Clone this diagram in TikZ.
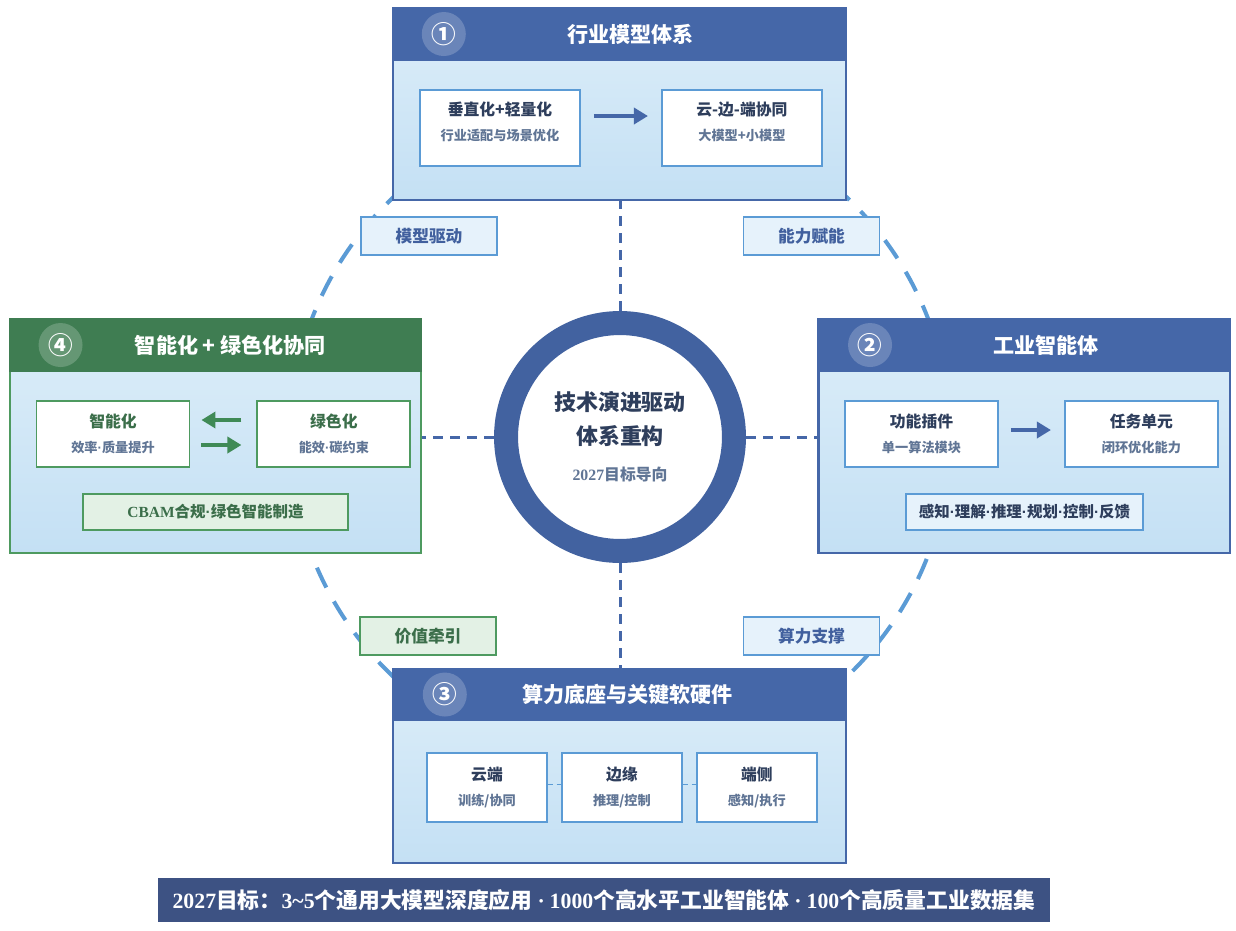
\documentclass[tikz,border=0pt]{standalone}
\usepackage{fontspec}
\setmainfont{Noto Sans CJK SC}
\newfontfamily\serifnum{Liberation Serif}
\newfontfamily\latinsans{Liberation Sans}
\usetikzlibrary{arrows.meta,positioning}
\definecolor{hdrblue}{HTML}{4567A8}
\definecolor{hdrgreen}{HTML}{3F7D52}
\definecolor{edgeblue}{HTML}{5B9BD5}
\definecolor{edgegreen}{HTML}{4E9A60}
\definecolor{bodytop}{HTML}{DDEEF9}
\definecolor{bodybot}{HTML}{C4E0F4}
\definecolor{navytext}{HTML}{2E3E5C}
\definecolor{subtext}{HTML}{607595}
\definecolor{greentext}{HTML}{3B6E4A}
\definecolor{tagblue}{HTML}{41609E}
\definecolor{labelfill}{HTML}{E6F2FB}
\definecolor{greenfill}{HTML}{E3F1E5}
\definecolor{ringblue}{HTML}{4262A0}
\definecolor{barblue}{HTML}{3D5283}
\definecolor{arrowgreen}{HTML}{3F8A56}
\pgfdeclarelayer{background}
\pgfsetlayers{background,main}
\newcommand{\subline}[1]{{\fontsize{7.5}{9}\selectfont\color{subtext}#1}}
\newcommand{\mdot}{{\latinsans ·}}

\begin{document}
\begin{tikzpicture}[
    x=0.02cm, y=-0.02cm,
    every node/.style={font=\small},
    panel/.style={draw=hdrblue, line width=1.4pt, top color=bodytop, bottom color=bodybot, minimum width=9.06cm, minimum height=3.84cm},
    sidepanel/.style={panel, minimum width=8.23cm, minimum height=4.68cm},
    headbar/.style={draw=hdrblue, fill=hdrblue, line width=1.4pt, minimum height=1.04cm, anchor=north},
    badge/.style={circle, fill=white, fill opacity=0.2, text opacity=1, text=white, minimum size=0.88cm, inner sep=0pt, font=\fontsize{14}{14}\selectfont\bfseries},
    headtitle/.style={text=white, font=\fontsize{12}{14}\selectfont\bfseries},
    card/.style={draw=edgeblue, line width=1.1pt, fill=white, align=center, text=navytext, minimum width=3.2cm, minimum height=1.52cm, font=\fontsize{9}{14}\selectfont\bfseries},
    smallcard/.style={card, minimum width=3.06cm, minimum height=1.32cm},
    greencard/.style={smallcard, draw=edgegreen, text=greentext},
    stripbox/.style={draw=edgeblue, line width=1.1pt, fill=labelfill, text=navytext, minimum height=0.72cm, font=\fontsize{8.8}{11}\selectfont\bfseries},
    tag/.style={draw=edgeblue, line width=1.1pt, fill=labelfill, text=tagblue, minimum width=2.72cm, minimum height=0.76cm, font=\fontsize{9.5}{11}\selectfont\bfseries},
    greentag/.style={tag, draw=edgegreen, fill=greenfill, text=greentext},
    flow/.style={-{Triangle[length=0.28cm, width=0.32cm]}, line width=2pt, draw=hdrblue},
    greenflow/.style={flow, draw=arrowgreen},
    spoke/.style={draw=hdrblue, line width=1.7pt, dash pattern=on 5.7pt off 4pt},
    orbit/.style={draw=edgeblue, line width=2.3pt, dash pattern=on 12.5pt off 9pt},
    linkdash/.style={draw=edgeblue, line width=1pt, dash pattern=on 3pt off 2pt}
]
\useasboundingbox (0,0) rectangle (1236,930);

% center
\node[circle, draw=ringblue, line width=0.48cm, minimum size=4.56cm, fill=white, align=center, text=navytext, font=\fontsize{12.5}{19}\selectfont\bfseries] (ring) at (620,437)
  {技术演进驱动\\体系重构\\[2pt]{\fontsize{9}{11}\selectfont\color{subtext}{\serifnum 2027}目标导向}};

% (1) industry models
\node[panel] (industry) at (619.5,104) {};
\node[headbar, minimum width=9.06cm] (industryhead) at (industry.north) {};
\node[badge] (industrybadge) at ([xshift=1.04cm]industryhead.west) {①};
\node[headtitle] (industrytitle) at ([xshift=0.22cm]industryhead.center) {行业模型体系};
\node[card, text depth=7.5pt] (vertical) at (500,128) {垂直化+轻量化\\\subline{行业适配与场景优化}};
\node[card, text depth=7.5pt, right=1.6cm of vertical] (cloudedge) {云-边-端协同\\\subline{大模型+小模型}};
\draw[flow, shorten <=0.26cm, shorten >=0.26cm] ([yshift=0.24cm]vertical.east) -- ([yshift=0.24cm]cloudedge.west);

% (2) industrial agents
\node[sidepanel] (agent) at (1024,436) {};
\node[headbar, minimum width=8.23cm] (agenthead) at (agent.north) {};
\node[badge] (agentbadge) at ([xshift=1.06cm]agenthead.west) {②};
\node[headtitle] (agenttitle) at ([xshift=0.44cm]agenthead.center) {工业智能体};
\node[smallcard] (plugin) at (921.5,434) {功能插件\\\subline{单一算法模块}};
\node[smallcard, right=1.3cm of plugin] (taskunit) {任务单元\\\subline{闭环优化能力}};
\node[stripbox, minimum width=4.74cm] (loopchain) at (1024.5,512) {感知\mdot 理解\mdot 推理\mdot 规划\mdot 控制\mdot 反馈};
\draw[flow, shorten <=0.24cm, shorten >=0.26cm] ([yshift=0.08cm]plugin.east) -- ([yshift=0.08cm]taskunit.west);

% (4) smart + green
\node[sidepanel, draw=edgegreen] (green) at (215.5,436) {};
\node[headbar, minimum width=8.23cm, draw=hdrgreen, fill=hdrgreen] (greenhead) at (green.north) {};
\node[badge] (greenbadge) at ([xshift=1.04cm]greenhead.west) {④};
\node[headtitle] (greentitle) at ([xshift=0.3cm]greenhead.center) {智能化 + 绿色化协同};
\node[greencard] (smart) at (113,434) {智能化\\\subline{效率\mdot 质量提升}};
\node[greencard, right=1.32cm of smart] (lowcarbon) {绿色化\\\subline{能效\mdot 碳约束}};
\node[stripbox, draw=edgegreen, fill=greenfill, text=greentext, minimum width=5.3cm] (cbam) at (215.5,512) {{\serifnum CBAM}合规\mdot 绿色智能制造};
\draw[greenflow, shorten <=0.3cm, shorten >=0.22cm] ([yshift=0.28cm]lowcarbon.west) -- ([yshift=0.28cm]smart.east);
\draw[greenflow, shorten <=0.22cm, shorten >=0.3cm] ([yshift=-0.22cm]smart.east) -- ([yshift=-0.22cm]lowcarbon.west);

% (3) compute base
\node[panel, minimum height=3.88cm] (compute) at (619.5,766) {};
\node[headbar, minimum width=9.06cm, minimum height=1.02cm] (computehead) at (compute.north) {};
\node[badge] (computebadge) at ([xshift=1.06cm]computehead.west) {③};
\node[headtitle] (computetitle) at ([xshift=0.16cm]computehead.center) {算力底座与关键软硬件};
\node[card, minimum width=2.4cm, minimum height=1.38cm] (cloudside) at (487,787.5) {云端\\\subline{训练/协同}};
\node[card, minimum width=2.4cm, minimum height=1.38cm, right=0.26cm of cloudside] (edgeside) {边缘\\\subline{推理/控制}};
\node[card, minimum width=2.4cm, minimum height=1.38cm, right=0.26cm of edgeside] (deviceside) {端侧\\\subline{感知/执行}};
\draw[linkdash] ([yshift=0.06cm]cloudside.east) -- ([yshift=0.06cm]edgeside.west);
\draw[linkdash] ([yshift=0.06cm]edgeside.east) -- ([yshift=0.06cm]deviceside.west);

% ring of relations
\begin{pgfonlayer}{background}
\draw[orbit] (ring.center) circle[radius=6.6cm];
\draw[spoke] (ring) -- (industry.south -| ring);
\draw[spoke] (ring) -- (compute.north -| ring);
\draw[spoke] (ring) -- (agent.west |- ring);
\draw[spoke] (ring) -- (green.east |- ring);
\end{pgfonlayer}
\node[tag] (modeldrive) at (429,236) {模型驱动};
\node[tag] (enable) at (811.5,236) {能力赋能};
\node[greentag] (valuepull) at (428,636) {价值牵引};
\node[tag] (support) at (811.5,636) {算力支撑};

% goal bar
\node[fill=barblue, text=white, minimum width=17.84cm, minimum height=0.88cm, font=\fontsize{12.4}{14}\selectfont\bfseries] (goal) at (604,900)
  {{\serifnum 2027}目标：{\serifnum 3\textasciitilde 5}个通用大模型深度应用 {\serifnum ·} {\serifnum 1000}个高水平工业智能体 {\serifnum ·} {\serifnum 100}个高质量工业数据集};
\end{tikzpicture}
\end{document}
